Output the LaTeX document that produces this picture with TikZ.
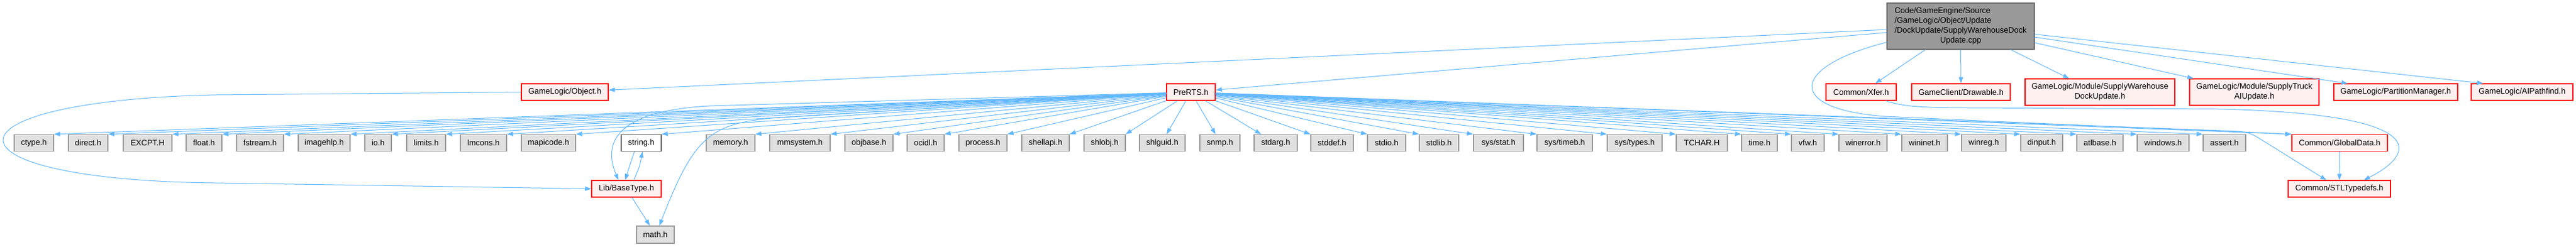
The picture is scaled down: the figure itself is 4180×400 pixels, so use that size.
\documentclass[tikz,border=0pt]{standalone}
\usepackage{fontspec}
\setmainfont{Liberation Sans}
\usetikzlibrary{arrows.meta,calc}
\definecolor{edgeblue}{HTML}{63B8FF}
\definecolor{redfill}{HTML}{FFF0F0}
\definecolor{grayfill}{HTML}{E0E0E0}
\definecolor{grayline}{HTML}{999999}
\definecolor{mainfill}{HTML}{999999}
\definecolor{mainline}{HTML}{666666}
\tikzset{
  box/.style={draw, line width=1.2pt, inner sep=0pt, minimum height=27pt, font=\fontsize{13}{16}\selectfont, align=center},
  sysbox/.style={box, fill=grayfill, draw=grayline},
  redbox/.style={box, fill=redfill, draw=red},
  whitebox/.style={box, fill=white, draw=mainline},
  mainbox/.style={box, fill=mainfill, draw=mainline},
  edge/.style={draw=edgeblue, line width=1pt, -{Triangle[length=10pt,width=7pt]}}
}
\begin{document}
\begin{tikzpicture}[x=1pt,y=-1pt]
\path[use as bounding box, fill=white] (0,0) rectangle (4180,400);
% main node
\node[mainbox, minimum width=239pt, minimum height=75pt] (main) at (3181.5,42.5)
  {\begin{tabular}{@{}l@{}}Code/GameEngine/Source\\/GameLogic/Object/Update\\/DockUpdate/SupplyWarehouseDock\\\multicolumn{1}{@{}c@{}}{Update.cpp}\end{tabular}};
% row 2
\node[redbox, minimum width=141pt] (obj) at (916.5,149.5) {GameLogic/Object.h};
\node[redbox, minimum width=79pt] (pre) at (1932.5,149.5) {PreRTS.h};
\node[redbox, minimum width=114pt] (xfer) at (3020,149.5) {Common/Xfer.h};
\node[redbox, minimum width=160pt] (drw) at (3182,149.5) {GameClient/Drawable.h};
\node[redbox, minimum width=243pt, minimum height=43pt] (swdu) at (3407.5,149.5) {GameLogic/Module/SupplyWarehouse\\DockUpdate.h};
\node[redbox, minimum width=210pt, minimum height=43pt] (staiu) at (3658,149.5) {GameLogic/Module/SupplyTruck\\AIUpdate.h};
\node[redbox, minimum width=201pt] (pm) at (3887.5,149.5) {GameLogic/PartitionManager.h};
\node[redbox, minimum width=165pt] (aip) at (4092.5,149.5) {GameLogic/AIPathfind.h};
% row 3 (system headers)
\node[sysbox, minimum width=64pt] (ctype) at (55,232) {ctype.h};
\node[sysbox, minimum width=64pt] (direct) at (143,232) {direct.h};
\node[sysbox, minimum width=79pt] (excpt) at (239.5,232) {EXCPT.H};
\node[sysbox, minimum width=58pt] (float) at (331,232) {float.h};
\node[sysbox, minimum width=76pt] (fstream) at (422,232) {fstream.h};
\node[sysbox, minimum width=84pt] (imagehlp) at (526,232) {imagehlp.h};
\node[sysbox, minimum width=43pt] (io) at (613.5,232) {io.h};
\node[sysbox, minimum width=63pt] (limits) at (691.5,232) {limits.h};
\node[sysbox, minimum width=75pt] (lmcons) at (784.5,232) {lmcons.h};
\node[sysbox, minimum width=88pt] (mapicode) at (890,232) {mapicode.h};
\node[whitebox, minimum width=65pt] (str) at (1040.5,232) {string.h};
\node[sysbox, minimum width=79pt] (memory) at (1185.5,232) {memory.h};
\node[sysbox, minimum width=98pt] (mmsystem) at (1298,232) {mmsystem.h};
\node[sysbox, minimum width=78pt] (objbase) at (1410,232) {objbase.h};
\node[sysbox, minimum width=60pt] (ocidl) at (1502,232) {ocidl.h};
\node[sysbox, minimum width=78pt] (process) at (1595,232) {process.h};
\node[sysbox, minimum width=77pt] (shellapi) at (1696.5,232) {shellapi.h};
\node[sysbox, minimum width=67pt] (shlobj) at (1792.5,232) {shlobj.h};
\node[sysbox, minimum width=74pt] (shlguid) at (1886,232) {shlguid.h};
\node[sysbox, minimum width=65pt] (snmp) at (1979.5,232) {snmp.h};
\node[sysbox, minimum width=70pt] (stdarg) at (2070,232) {stdarg.h};
\node[sysbox, minimum width=69pt] (stddef) at (2161.5,232) {stddef.h};
\node[sysbox, minimum width=62pt] (stdio) at (2250,232) {stdio.h};
\node[sysbox, minimum width=64pt] (stdlib) at (2335,232) {stdlib.h};
\node[sysbox, minimum width=81pt] (sysstat) at (2431.5,232) {sys/stat.h};
\node[sysbox, minimum width=90pt] (systimeb) at (2539,232) {sys/timeb.h};
\node[sysbox, minimum width=89pt] (systypes) at (2652.5,232) {sys/types.h};
\node[sysbox, minimum width=83pt] (tchar) at (2761.5,232) {TCHAR.H};
\node[sysbox, minimum width=58pt] (time) at (2855,232) {time.h};
\node[sysbox, minimum width=53pt] (vfw) at (2933.5,232) {vfw.h};
\node[sysbox, minimum width=78pt] (winerror) at (3023,232) {winerror.h};
\node[sysbox, minimum width=74pt] (wininet) at (3123,232) {wininet.h};
\node[sysbox, minimum width=72pt] (winreg) at (3219,232) {winreg.h};
\node[sysbox, minimum width=68pt] (dinput) at (3313,232) {dinput.h};
\node[sysbox, minimum width=75pt] (atlbase) at (3407.5,232) {atlbase.h};
\node[sysbox, minimum width=84pt] (windows) at (3510,232) {windows.h};
\node[sysbox, minimum width=69pt] (assert) at (3609.5,232) {assert.h};
\node[redbox, minimum width=155pt] (gd) at (3796.5,232) {Common/GlobalData.h};
% row 4
\node[redbox, minimum width=113pt] (bt) at (1016.5,306.5) {Lib/BaseType.h};
\node[redbox, minimum width=166pt] (stl) at (3796,306.5) {Common/STLTypedefs.h};
% row 5
\node[sysbox, minimum width=61pt, minimum height=28pt] (math) at (1063.5,381) {math.h};

% edges from main
\draw[edge] (main) -- (obj);
\draw[edge] (main) -- (pre);
\draw[edge] ($(main.south west)+(0,-12)$) .. controls (2900,110) and (2900,178) .. (3060,189) .. controls (3400,205) and (3600,212) .. (gd.north west);
\draw[edge] ($(main.south west)+(63,0)$) -- ($(xfer.north)+(23,0)$);
\draw[edge] (main.south) -- (drw.north);
\draw[edge] ($(main.south east)+(-39,0)$) -- ($(swdu.north west)+(72,0)$);
\draw[edge] (main) -- ($(staiu.north west)+(7,0)$);
\draw[edge] (main) -- ($(pm.north west)+(23,0)$);
\draw[edge] (main) -- ($(aip.north west)+(20,0)$);

% Object.h -> BaseType loop
\draw[edge] (obj.west) -- (350,154) .. controls (-110,164) and (-110,292) .. (350,297) -- (bt.west);

% PreRTS edges
\foreach \n in {ctype,direct,excpt,float,fstream,imagehlp,io,limits,lmcons,mapicode,str,memory,mmsystem,objbase,ocidl,process,shellapi,shlobj}
  \draw[edge] (pre) -- (\n.north east);
\draw[edge] (pre) -- ($(shlguid.north)+(7,0)$);
\draw[edge] (pre) -- ($(snmp.north)+(-7,0)$);
\draw[edge] (pre) -- ($(stdarg.north west)+(12,0)$);
\foreach \n in {stddef,stdio,stdlib,sysstat,systimeb,systypes,tchar,time,vfw,winerror,wininet,winreg,dinput,atlbase,windows,assert,gd}
  \draw[edge] (pre) -- (\n.north west);
\draw[edge] (pre) -- (1150,172) .. controls (1010,180) and (975,225) .. ($(bt.north)+(-13,0)$);
\draw[edge] (pre) -- (1250,192) .. controls (1150,202) and (1125,225) .. ($(math.north)+(6.5,0)$);
\draw[edge] (pre) -- (3630,213) .. controls (3648,214) and (3655,218) .. (3665,224) -- ($(stl.north)+(-21,0)$);

% BaseType / string.h / math.h
\draw[edge] ($(str.south)+(-11,0)$) .. controls (1022,268) .. ($(bt.north)+(-2,0)$);
\draw[edge] ($(bt.north)+(12,0)$) .. controls (1038,270) .. ($(str.south)+(2,0)$);
\draw[edge] ($(bt.south)+(9,0)$) -- ($(math.north)+(-9,0)$);

% GlobalData / Xfer -> STLTypedefs
\draw[edge] (gd.south) -- (stl.north);
\draw[edge] ($(xfer.south)+(40,0)$) .. controls (3085,172) and (3110,175) .. (3200,175) -- (3600,177) .. controls (3950,185) and (3920,250) .. ($(stl.north east)+(-44,0)$);
\end{tikzpicture}
\end{document}
